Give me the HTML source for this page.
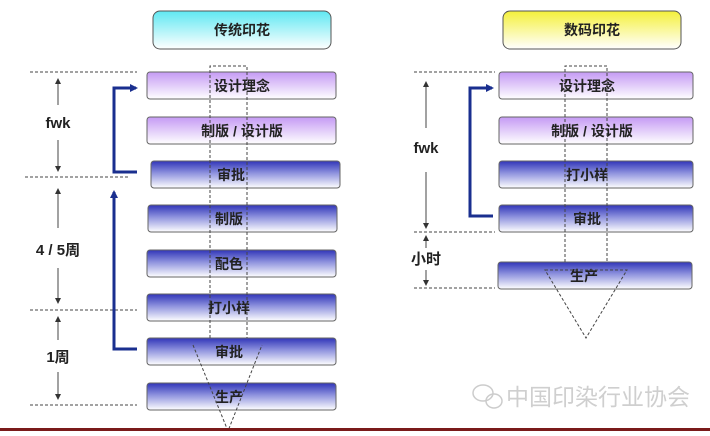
<!DOCTYPE html>
<html><head><meta charset="utf-8"><style>
body{margin:0;background:#fff;}
text{font-family:"Liberation Sans","Noto Sans CJK SC",sans-serif;}
</style></head><body>
<svg width="710" height="431" viewBox="0 0 710 431" xmlns="http://www.w3.org/2000/svg">
<defs>
<linearGradient id="cy" x1="0" y1="0" x2="0" y2="1"><stop offset="0" stop-color="#5fe8f2"/><stop offset="1" stop-color="#ffffff"/></linearGradient>
<linearGradient id="yl" x1="0" y1="0" x2="0" y2="1"><stop offset="0" stop-color="#f4f03a"/><stop offset="1" stop-color="#ffffff"/></linearGradient>
<linearGradient id="pu" x1="0" y1="0" x2="0" y2="1"><stop offset="0" stop-color="#c59af4"/><stop offset="1" stop-color="#ffffff"/></linearGradient>
<linearGradient id="bl" x1="0" y1="0" x2="0" y2="1"><stop offset="0" stop-color="#3035b8"/><stop offset="0.45" stop-color="#8f93de"/><stop offset="1" stop-color="#ffffff"/></linearGradient>
<marker id="ah" markerUnits="userSpaceOnUse" markerWidth="6" markerHeight="6" refX="5" refY="3" orient="auto"><path d="M0,0 L6,3 L0,6z" fill="#333"/></marker>
<marker id="bh" markerUnits="userSpaceOnUse" markerWidth="8" markerHeight="8" refX="6" refY="4" orient="auto"><path d="M0,0 L8,4 L0,8z" fill="#1a2f8f"/></marker>
</defs>
<g stroke="#555" stroke-width="1" fill="none">
<rect x="153" y="11" width="178" height="38" rx="7" fill="url(#cy)"/>
<rect x="503" y="11" width="178" height="38" rx="7" fill="url(#yl)"/>
</g>
<g font-size="14" font-weight="bold" fill="#222" text-anchor="middle">
<text x="242" y="35">传统印花</text><text x="592" y="35">数码印花</text>
</g>
<g stroke="#666" stroke-width="1">
<rect x="147" y="72" width="189" height="27" rx="3" fill="url(#pu)"/>
<rect x="147" y="117" width="189" height="27" rx="3" fill="url(#pu)"/>
<rect x="151" y="161" width="189" height="27" rx="3" fill="url(#bl)"/>
<rect x="148" y="205" width="189" height="27" rx="3" fill="url(#bl)"/>
<rect x="147" y="250" width="189" height="27" rx="3" fill="url(#bl)"/>
<rect x="147" y="294" width="189" height="27" rx="3" fill="url(#bl)"/>
<rect x="147" y="338" width="189" height="27" rx="3" fill="url(#bl)"/>
<rect x="147" y="383" width="189" height="27" rx="3" fill="url(#bl)"/>
<rect x="499" y="72" width="194" height="27" rx="3" fill="url(#pu)"/>
<rect x="499" y="117" width="194" height="27" rx="3" fill="url(#pu)"/>
<rect x="499" y="161" width="194" height="27" rx="3" fill="url(#bl)"/>
<rect x="499" y="205" width="194" height="27" rx="3" fill="url(#bl)"/>
<rect x="498" y="262" width="194" height="27" rx="3" fill="url(#bl)"/>
</g>
<g font-size="14" font-weight="bold" fill="#222" text-anchor="middle">
<text x="242" y="91">设计理念</text><text x="242" y="136">制版 / 设计版</text>
<text x="231" y="180">审批</text><text x="229" y="224">制版</text>
<text x="229" y="269">配色</text><text x="229" y="313">打小样</text>
<text x="229" y="357">审批</text><text x="229" y="402">生产</text>
<text x="587" y="91">设计理念</text><text x="592" y="136">制版 / 设计版</text>
<text x="587" y="180">打小样</text><text x="587" y="224">审批</text>
<text x="584" y="281">生产</text>
</g>
<g stroke="#444" stroke-width="1" stroke-dasharray="3,2" fill="none">
<line x1="30" y1="72" x2="137" y2="72"/><line x1="25" y1="177" x2="130" y2="177"/>
<line x1="30" y1="310" x2="137" y2="310"/><line x1="30" y1="405" x2="137" y2="405"/>
<line x1="414" y1="72" x2="495" y2="72"/><line x1="414" y1="232" x2="495" y2="232"/>
<line x1="414" y1="288" x2="495" y2="288"/>
<path d="M210,338 V66 H247 V338"/>
<path d="M193,345 L228,431 L262,345"/>
<path d="M565,262 V66 H607 V262"/>
<path d="M545,270 H627 L586,338 Z"/>
</g>
<g stroke="#444" stroke-width="1" marker-end="url(#ah)">
<line x1="58" y1="105" x2="58" y2="79"/><line x1="58" y1="140" x2="58" y2="171"/>
<line x1="58" y1="228" x2="58" y2="189"/><line x1="58" y1="268" x2="58" y2="303"/>
<line x1="58" y1="340" x2="58" y2="317"/><line x1="58" y1="372" x2="58" y2="399"/>
<line x1="426" y1="128" x2="426" y2="82"/><line x1="426" y1="172" x2="426" y2="228"/>
<line x1="426" y1="248" x2="426" y2="236"/><line x1="426" y1="270" x2="426" y2="285"/>
</g>
<g font-size="15" font-weight="bold" fill="#222" text-anchor="middle">
<text x="58" y="128">fwk</text><text x="58" y="255">4 / 5周</text><text x="58" y="362">1周</text>
<text x="426" y="153">fwk</text><text x="426" y="264">小时</text>
</g>
<g stroke="#1a2f8f" stroke-width="3" fill="none">
<path d="M137,172 H114 V88 H136" marker-end="url(#bh)"/>
<path d="M137,349 H114 V192" marker-end="url(#bh)"/>
<path d="M493,216 H470 V88 H492" marker-end="url(#bh)"/>
</g>
<g stroke="#ccc" stroke-width="1.5" fill="none">
<ellipse cx="483" cy="393" rx="10" ry="8"/><ellipse cx="494" cy="401" rx="8" ry="7"/>
</g>
<text x="598" y="405" font-size="23" fill="#cfcfcf" text-anchor="middle" style="font-family:'Noto Sans CJK SC',sans-serif">中国印染行业协会</text>
<rect x="0" y="428" width="710" height="3" fill="#7a1a1a"/>
</svg>
</body></html>
